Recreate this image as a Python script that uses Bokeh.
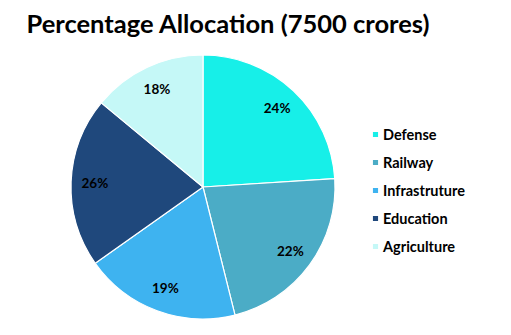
import math
from bokeh.plotting import figure
from bokeh.models import ColumnDataSource, Legend, LegendItem
from bokeh.core.properties import value
from bokeh.embed import file_html
from bokeh.resources import INLINE

categories = ["Defense", "Railway", "Infrastruture", "Education", "Agriculture"]
shares = [24.0, 22.1, 19.1, 20.8, 14.0]
labels = ["24%", "22%", "19%", "26%", "18%"]
colors = ["#17EFE8", "#4BACC6", "#3EB3F0", "#1F487C", "#C5F8F7"]
title_text = "Percentage Allocation (7500 crores)"

W, H = 511, 335
FH = 294
CX, CY, R = 202.5, 149.0, 132

total = sum(shares)
starts, ends, lx, ly = [], [], [], []
cum = 0.0
for s in shares:
    a0 = math.pi / 2 - cum / total * 2 * math.pi
    cum += s
    a1 = math.pi / 2 - cum / total * 2 * math.pi
    starts.append(a0)
    ends.append(a1)
    mid = (a0 + a1) / 2
    lx.append(CX + 0.82 * R * math.cos(mid))
    ly.append(CY + 0.82 * R * math.sin(mid))

src = ColumnDataSource(dict(cat=categories, start=starts, end=ends, color=colors,
                            lx=lx, ly=ly, lab=labels))

p = figure(width=W, height=H, x_range=(0, W), y_range=(0, FH),
           output_backend="svg", toolbar_location=None, title=title_text,
           min_border=0, min_border_top=3, outline_line_color=None)
p.axis.visible = False
p.grid.visible = False
p.background_fill_color = "white"
p.border_fill_color = "white"
p.title.text_font = "Lato"
p.title.text_font_style = "bold"
p.title.text_font_size = "25.5px"
p.title.text_color = "black"
p.title.offset = 26

wr = p.wedge(x=CX, y=CY, radius=R, radius_units="screen", start_angle="start",
             end_angle="end", direction="clock", fill_color="color",
             line_color="white", line_width=1.2, source=src)

p.text(x="lx", y="ly", text="lab", source=src, text_align="center",
       text_baseline="middle", text_font=value("Lato"), text_font_style="bold",
       text_font_size="13.5px", text_color="black")

items = [LegendItem(label=c, renderers=[wr], index=i) for i, c in enumerate(categories)]
legend = Legend(items=items, location=(371, 79), orientation="vertical",
                glyph_width=8, glyph_height=8, label_height=20, spacing=8,
                label_standoff=4, padding=0, margin=0,
                border_line_alpha=0, background_fill_alpha=0,
                label_text_font="Lato", label_text_font_style="bold",
                label_text_font_size="14.5px", label_text_color="black")
p.add_layout(legend, "center")

open("out.html", "w").write(file_html(p, INLINE))
